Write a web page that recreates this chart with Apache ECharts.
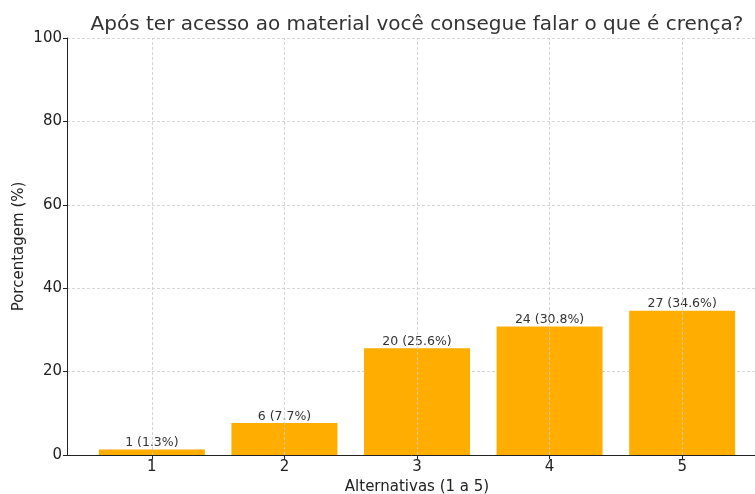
<!DOCTYPE html>
<html>
<head>
<meta charset="utf-8">
<script src="https://cdn.jsdelivr.net/npm/echarts@6/dist/echarts.min.js"></script>
<style>
  html, body { margin: 0; padding: 0; background: #fff; }
  #chart { width: 755px; height: 494px; }
</style>
</head>
<body>
<div id="chart"></div>
<script>
const alternativas = [1, 2, 3, 4, 5]
const contagens = [1, 6, 20, 24, 27]
const percentuais = [1.3, 7.7, 25.6, 30.8, 34.6]
const yTicks = [0, 20, 40, 60, 80, 100]

const chart = echarts.init(document.getElementById('chart'))
const font = 'DejaVu Sans'

const option = {
  animation: false,
  title: {
    text: 'Após ter acesso ao material você consegue falar o que é crença?',
    left: 412,
    top: 10,
    textAlign: 'center',
    textStyle: { fontFamily: font, fontSize: 20, fontWeight: 'normal', color: '#333' }
  },
  grid: { left: 67, top: 38, bottom: 39, right: -12, containLabel: false, outerBoundsMode: 'none' },
  xAxis: {
    type: 'value',
    min: 0.36,
    max: 5.64,
    name: 'Alternativas (1 a 5)',
    nameLocation: 'middle',
    nameGap: 25,
    nameMoveOverlap: false,
    nameTextStyle: { fontFamily: font, fontSize: 15, color: '#222' },
    axisLine: { show: true, lineStyle: { color: '#222', width: 1 } },
    axisTick: { show: true, customValues: alternativas, length: 4, lineStyle: { color: '#222' } },
    axisLabel: { customValues: alternativas, fontFamily: font, fontSize: 15, color: '#222', margin: 5 },
    splitLine: { show: false }
  },
  yAxis: {
    type: 'value',
    min: 0,
    max: 100,
    interval: 20,
    name: 'Porcentagem (%)',
    nameLocation: 'middle',
    nameGap: 40,
    nameMoveOverlap: false,
    nameTextStyle: { fontFamily: font, fontSize: 15, color: '#222' },
    axisLine: { show: true, lineStyle: { color: '#222', width: 1 } },
    axisTick: { show: true, length: 4, lineStyle: { color: '#222' } },
    axisLabel: { customValues: yTicks, fontFamily: font, fontSize: 15, color: '#222', margin: 5 },
    splitLine: { show: true, lineStyle: { color: '#cccccc', type: [3, 2], width: 0.8 } }
  },
  series: [
    {
      type: 'bar',
      barWidth: 106,
      data: alternativas.map((a, i) => [a, percentuais[i]]),
      itemStyle: { color: '#FFAE00' },
      label: {
        show: true,
        position: 'top',
        distance: 0,
        fontFamily: font,
        fontSize: 12.5,
        color: '#333',
        formatter: p => contagens[p.dataIndex] + ' (' + percentuais[p.dataIndex] + '%)'
      },
      markLine: {
        silent: true,
        symbol: 'none',
        label: { show: false },
        lineStyle: { color: '#cccccc', type: [3, 2], width: 0.8 },
        data: alternativas.map(a => ({ xAxis: a }))
      },
      z: 2
    }
  ]
}

chart.setOption(option)
</script>
</body>
</html>
